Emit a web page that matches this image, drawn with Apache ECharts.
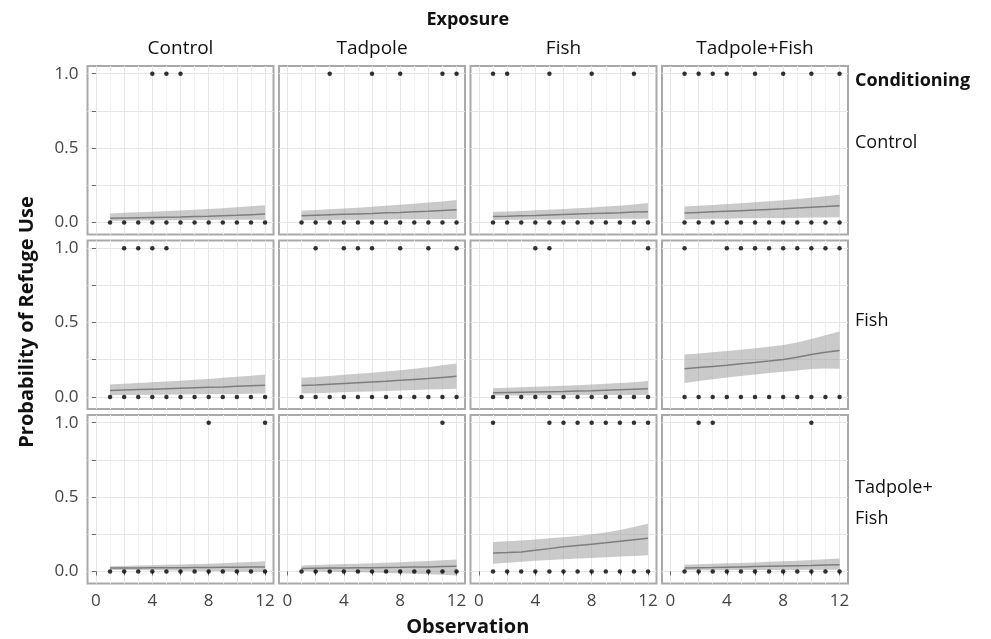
<!DOCTYPE html>
<html><head><meta charset="utf-8">
<script src="https://cdn.jsdelivr.net/npm/echarts@6/dist/echarts.min.js"></script>
<style>html,body{margin:0;padding:0;background:#fff}#c{width:991px;height:639px}</style>
</head><body><div id="c"></div>
<script>
// ---------- data ----------
const observations = [1,2,3,4,5,6,7,8,9,10,11,12];
const exposureLabels = ['Control','Tadpole','Fish','Tadpole+Fish'];
const conditioningLabels = ['Control','Fish','Tadpole+\nFish'];
const xTickValues = [0,4,8,12];
const xMinorTickValues = [0,2,4,6,8,10,12];
const yTickValues = [0,0.5,1];
const yGridValues = [0,0.25,0.5,0.75,1];

// Conditioning = Control
const fit_C_C   = [0.027,0.029,0.031,0.033,0.035,0.037,0.040,0.042,0.045,0.048,0.052,0.056];
const upper_C_C = [0.060,0.064,0.068,0.072,0.076,0.080,0.085,0.090,0.095,0.101,0.108,0.116];
const lower_C_C = [0.010,0.011,0.012,0.013,0.014,0.015,0.016,0.016,0.017,0.017,0.018,0.018];
const used_C_C  = [4,5,6];

const fit_C_T   = [0.045,0.048,0.051,0.054,0.057,0.060,0.064,0.067,0.071,0.075,0.080,0.085];
const upper_C_T = [0.078,0.083,0.088,0.094,0.099,0.105,0.111,0.118,0.125,0.133,0.141,0.150];
const lower_C_T = [0.014,0.015,0.016,0.017,0.018,0.019,0.020,0.021,0.021,0.022,0.022,0.023];
const used_C_T  = [3,6,8,11,12];

const fit_C_F   = [0.040,0.042,0.045,0.047,0.050,0.053,0.056,0.059,0.062,0.065,0.069,0.072];
const upper_C_F = [0.070,0.073,0.077,0.081,0.085,0.090,0.095,0.100,0.106,0.112,0.120,0.130];
const lower_C_F = [0.016,0.017,0.018,0.019,0.020,0.021,0.022,0.023,0.023,0.024,0.024,0.025];
const used_C_F  = [1,2,5,8,11];

const fit_C_TF   = [0.063,0.067,0.071,0.075,0.079,0.083,0.087,0.091,0.096,0.101,0.106,0.112];
const upper_C_TF = [0.107,0.112,0.117,0.123,0.129,0.135,0.142,0.149,0.157,0.166,0.176,0.186];
const lower_C_TF = [0.020,0.022,0.024,0.025,0.027,0.028,0.029,0.030,0.031,0.032,0.033,0.034];
const used_C_TF  = [1,2,3,4,6,8,10,12];

// Conditioning = Fish
const fit_F_C   = [0.043,0.046,0.049,0.052,0.055,0.058,0.061,0.064,0.067,0.071,0.075,0.079];
const upper_F_C = [0.083,0.088,0.093,0.098,0.103,0.109,0.115,0.121,0.128,0.135,0.142,0.150];
const lower_F_C = [0.011,0.012,0.013,0.014,0.015,0.016,0.017,0.018,0.019,0.020,0.021,0.022];
const used_F_C  = [2,3,4,5];

const fit_F_T   = [0.076,0.080,0.085,0.090,0.095,0.100,0.105,0.111,0.117,0.123,0.131,0.139];
const upper_F_T = [0.128,0.134,0.141,0.148,0.155,0.162,0.170,0.179,0.189,0.200,0.212,0.225];
const lower_F_T = [0.022,0.025,0.028,0.031,0.034,0.037,0.040,0.043,0.046,0.049,0.052,0.054];
const used_F_T  = [2,4,5,6,8,10,12];

const fit_F_F   = [0.027,0.029,0.031,0.033,0.035,0.037,0.040,0.042,0.045,0.048,0.051,0.054];
const upper_F_F = [0.058,0.061,0.064,0.068,0.071,0.075,0.079,0.083,0.088,0.093,0.099,0.106];
const lower_F_F = [0.009,0.009,0.010,0.010,0.011,0.011,0.012,0.012,0.012,0.013,0.013,0.013];
const used_F_F  = [4,5,12];

const fit_F_TF   = [0.189,0.197,0.205,0.213,0.222,0.231,0.241,0.252,0.267,0.285,0.300,0.312];
const upper_F_TF = [0.285,0.292,0.300,0.308,0.317,0.327,0.337,0.348,0.366,0.390,0.414,0.440];
const lower_F_TF = [0.094,0.107,0.119,0.130,0.140,0.150,0.160,0.169,0.178,0.188,0.190,0.189];
const used_F_TF  = [1,4,5,6,7,8,9,10,11,12];

// Conditioning = Tadpole+Fish
const fit_TF_C   = [0.022,0.023,0.023,0.024,0.024,0.025,0.026,0.026,0.027,0.028,0.029,0.030];
const upper_TF_C = [0.034,0.036,0.039,0.041,0.044,0.046,0.049,0.052,0.055,0.059,0.063,0.068];
const lower_TF_C = [0.010,0.010,0.009,0.008,0.007,0.005,0.004,0.002,0.001,-0.001,-0.003,-0.005];
const used_TF_C  = [8,12];

const fit_TF_T   = [0.020,0.021,0.022,0.023,0.024,0.025,0.026,0.027,0.029,0.030,0.032,0.034];
const upper_TF_T = [0.040,0.043,0.046,0.049,0.052,0.055,0.058,0.062,0.066,0.070,0.075,0.080];
const lower_TF_T = [0.002,0.000,-0.002,-0.004,-0.006,-0.008,-0.011,-0.013,-0.016,-0.019,-0.023,-0.027];
const used_TF_T  = [11];

const fit_TF_F   = [0.124,0.127,0.131,0.142,0.153,0.165,0.174,0.183,0.192,0.202,0.212,0.222];
const upper_TF_F = [0.197,0.202,0.208,0.215,0.222,0.229,0.238,0.249,0.262,0.278,0.298,0.321];
const lower_TF_F = [0.052,0.058,0.065,0.072,0.077,0.081,0.086,0.090,0.095,0.100,0.104,0.109];
const used_TF_F  = [1,5,6,7,8,9,10,11,12];

const fit_TF_TF   = [0.023,0.025,0.026,0.028,0.030,0.032,0.034,0.036,0.038,0.040,0.043,0.045];
const upper_TF_TF = [0.045,0.048,0.051,0.054,0.057,0.060,0.064,0.068,0.072,0.076,0.081,0.086];
const lower_TF_TF = [0.007,0.007,0.008,0.008,0.009,0.009,0.010,0.010,0.010,0.011,0.011,0.011];
const used_TF_TF  = [2,3,10];

const panelData = [
  [[fit_C_C,upper_C_C,lower_C_C,used_C_C],[fit_C_T,upper_C_T,lower_C_T,used_C_T],[fit_C_F,upper_C_F,lower_C_F,used_C_F],[fit_C_TF,upper_C_TF,lower_C_TF,used_C_TF]],
  [[fit_F_C,upper_F_C,lower_F_C,used_F_C],[fit_F_T,upper_F_T,lower_F_T,used_F_T],[fit_F_F,upper_F_F,lower_F_F,used_F_F],[fit_F_TF,upper_F_TF,lower_F_TF,used_F_TF]],
  [[fit_TF_C,upper_TF_C,lower_TF_C,used_TF_C],[fit_TF_T,upper_TF_T,lower_TF_T,used_TF_T],[fit_TF_F,upper_TF_F,lower_TF_F,used_TF_F],[fit_TF_TF,upper_TF_TF,lower_TF_TF,used_TF_TF]]
];

// ---------- layout ----------
const FONT = '"Open Sans", "Noto Sans", sans-serif';
const colLeft = [87.5, 279, 470.5, 662];
const rowTop = [66, 240.5, 415];
const panelW = 186, panelH = 168.5;

const grids = [], xAxes = [], yAxes = [], series = [];
let idx = 0;
for (let r = 0; r < 3; r++) {
  for (let c = 0; c < 4; c++) {
    const [fit, upper, lower, used] = panelData[r][c];
    grids.push({left: colLeft[c], top: rowTop[r], width: panelW, height: panelH,
      show: true, borderColor: '#a9a9a9', borderWidth: 2, backgroundColor: '#fff'});
    xAxes.push({
      type: 'value', gridIndex: idx, min: -0.6, max: 12.6, splitNumber: 7,
      axisLine: {show: false},
      axisTick: {show: r === 2, length: 4, lineStyle: {color: '#666'}, customValues: xMinorTickValues},
      axisLabel: {show: r === 2, customValues: xTickValues, margin: 9, color: '#444', fontSize: 17, fontFamily: FONT},
      splitLine: {show: true, lineStyle: {color: '#e6e6e6', width: 1}},
      minorTick: {show: false, splitNumber: 2},
      minorSplitLine: {show: true, lineStyle: {color: '#f1f1f1', width: 1}}
    });
    yAxes.push({
      type: 'value', gridIndex: idx, min: -0.0815, max: 1.0515,
      axisLine: {show: false},
      axisTick: {show: c === 0, length: 4, lineStyle: {color: '#666'}, customValues: yGridValues},
      axisLabel: {show: c === 0, customValues: yTickValues, margin: 9, color: '#444', fontSize: 17, fontFamily: FONT,
        formatter: v => v.toFixed(1)},
      splitLine: {show: true, lineStyle: {color: '#e6e6e6', width: 1}}
    });
    const bandData = observations.map((o, i) => [o, lower[i], upper[i]]);
    series.push({
      type: 'custom', xAxisIndex: idx, yAxisIndex: idx, silent: true, z: 1,
      data: bandData,
      renderItem: (params, api) => {
        if (params.dataIndex !== 0) return null;
        const top = bandData.map(d => api.coord([d[0], d[2]]));
        const bot = bandData.map(d => api.coord([d[0], d[1]])).reverse();
        return {type: 'polygon', shape: {points: top.concat(bot)},
          style: {fill: 'rgba(150,150,150,0.5)', stroke: null}};
      }
    });
    series.push({
      type: 'line', xAxisIndex: idx, yAxisIndex: idx,
      data: observations.map((o, i) => [o, fit[i]]), symbol: 'none', silent: true,
      lineStyle: {color: '#7d7d7d', width: 1.5}, z: 2
    });
    series.push({
      type: 'scatter', xAxisIndex: idx, yAxisIndex: idx,
      data: observations.map(o => [o, 0]), symbolSize: 4.5, itemStyle: {color: '#000'}, z: 3
    });
    series.push({
      type: 'scatter', xAxisIndex: idx, yAxisIndex: idx,
      data: used.map(o => [o, 1]), symbolSize: 4.5, itemStyle: {color: '#000'}, z: 3
    });
    idx++;
  }
}

const graphics = [];
const totalLeft = colLeft[0], totalRight = colLeft[3] + panelW;
function txt(text, x, y, font, align) {
  graphics.push({type: 'text', x: x, y: y,
    style: {text: text, fill: '#111', font: font, lineHeight: 31, textAlign: align || 'center', textVerticalAlign: 'middle'}});
}
txt('Exposure', (totalLeft + totalRight) / 2, 20, 'bold 18px ' + FONT);
exposureLabels.forEach((l, c) => txt(l, colLeft[c] + panelW / 2, 49, '19px ' + FONT));
txt('Conditioning', 855, 81, 'bold 18px ' + FONT, 'left');
const rowLabelY = [143, 321, 503.5];
conditioningLabels.forEach((l, r) => txt(l, 855, rowLabelY[r], '18px ' + FONT, 'left'));
graphics.push({type: 'text', x: 27, y: 322, rotation: Math.PI / 2,
  style: {text: 'Probability of Refuge Use', fill: '#111', font: 'bold 20px ' + FONT, textAlign: 'center', textVerticalAlign: 'middle'}});
txt('Observation', (totalLeft + totalRight) / 2, 627, 'bold 20px ' + FONT);

const chart = echarts.init(document.getElementById('c'), null, {renderer: 'canvas'});
chart.setOption({
  animation: false,
  backgroundColor: '#fff',
  grid: grids, xAxis: xAxes, yAxis: yAxes, series: series, graphic: graphics
});
</script></body></html>
